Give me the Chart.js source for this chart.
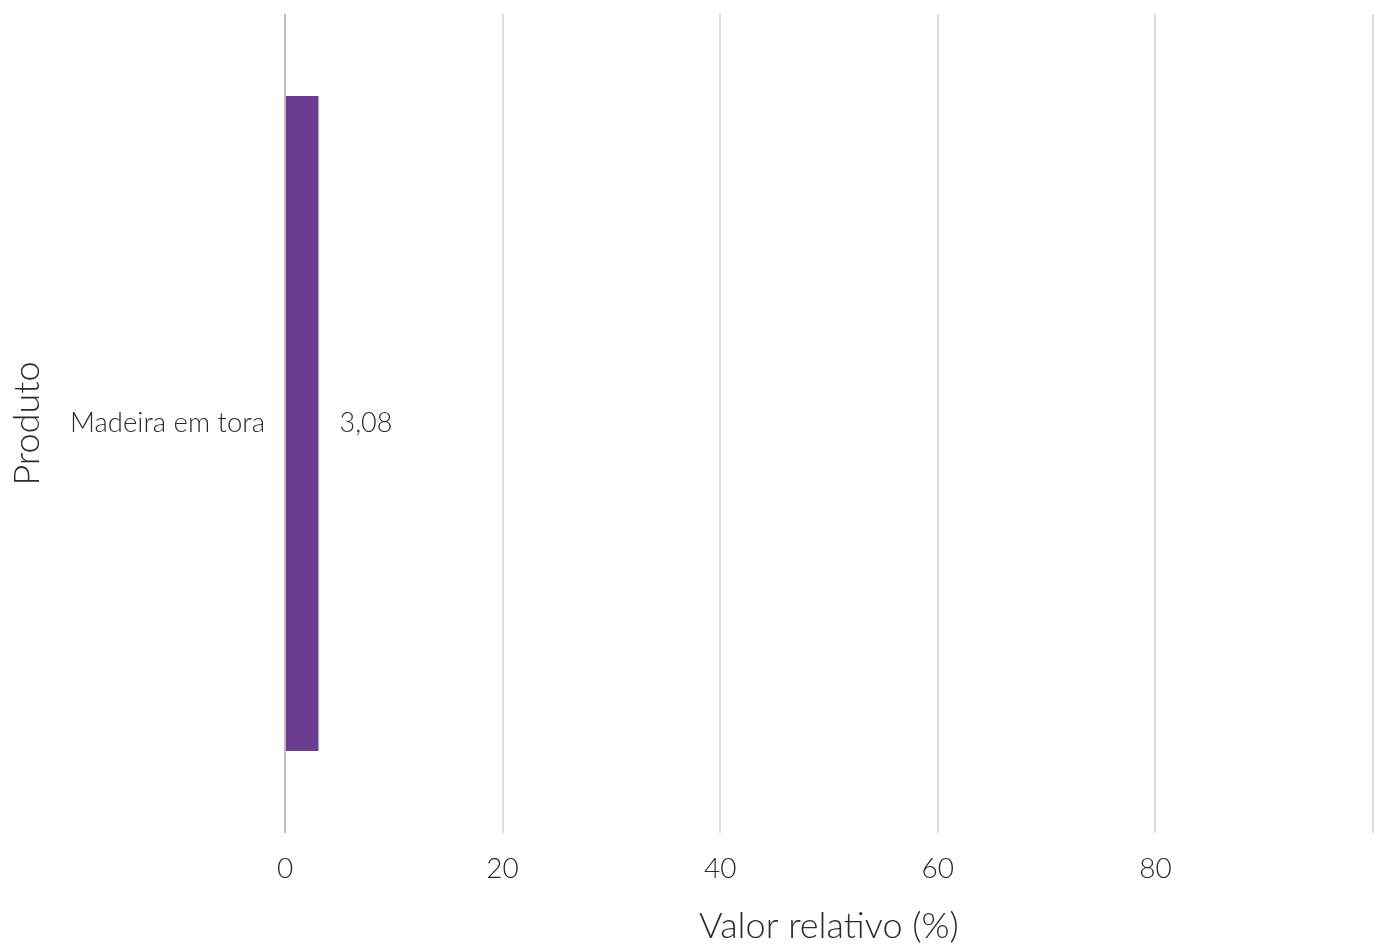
<!DOCTYPE html>
<html>
<head>
<meta charset="utf-8">
<script src="https://cdn.jsdelivr.net/npm/chart.js@4/dist/chart.umd.min.js"></script>
<style>
  body { margin: 0; background: #fff; }
  #wrap { width: 1374px; height: 946px; }
</style>
</head>
<body>
<div id="wrap"><canvas id="myChart"></canvas></div>
<script>
const produtos = ["Madeira em tora"];
const valores = [3.08];
const xTicks = [0, 20, 40, 60, 80, 100];

const fonte = "Lato";

// rotulo do valor ao lado da barra
const rotuloValor = {
  id: "rotuloValor",
  afterDatasetsDraw(chart) {
    const ctx = chart.ctx;
    const meta = chart.getDatasetMeta(0);
    ctx.save();
    ctx.font = `300 27px ${fonte}`;
    ctx.fillStyle = "#2b2b2b";
    ctx.textAlign = "left";
    ctx.textBaseline = "middle";
    meta.data.forEach((bar, i) => {
      const txt = valores[i].toFixed(2).replace(".", ",");
      ctx.fillText(txt, bar.x + 21, bar.y);
    });
    ctx.restore();
  },
};

const config = {
  type: "bar",
  data: {
    labels: produtos,
    datasets: [
      {
        data: valores,
        backgroundColor: "#6b3d8f",
        barPercentage: 0.8,
        categoryPercentage: 1,
      },
    ],
  },
  options: {
    indexAxis: "y",
    responsive: true,
    maintainAspectRatio: false,
    animation: false,
    layout: { padding: { top: 14, right: 1, left: 0, bottom: 0 } },
    plugins: { legend: { display: false }, tooltip: { enabled: false } },
    scales: {
      x: {
        min: 0,
        max: 100,
        afterBuildTicks: (scale) => {
          scale.ticks = xTicks.map((v) => ({ value: v }));
        },
        afterFit: (scale) => {
          scale.height = 113;
          scale.paddingLeft = 0;
          scale.paddingRight = 0;
        },
        border: { display: false },
        grid: {
          drawTicks: false,
          lineWidth: 2,
          color: (c) => (c.tick && c.tick.value === 0 ? "#bdbdbd" : "#dddddd"),
        },
        ticks: {
          padding: 19,
          color: "#2b2b2b",
          font: { family: fonte, size: 28, weight: "300" },
          callback: (v) => (v === 100 ? "" : v),
        },
        title: {
          display: true,
          text: "Valor relativo (%)",
          color: "#2b2b2b",
          font: { family: fonte, size: 36, weight: "300" },
          padding: { top: 0, bottom: -2 },
        },
      },
      y: {
        afterFit: (scale) => {
          scale.width = 285;
          scale.paddingTop = 0;
          scale.paddingBottom = 0;
        },
        border: { display: false },
        grid: { display: false },
        ticks: {
          padding: 12,
          color: "#2b2b2b",
          font: { family: fonte, size: 27.5, weight: "300" },
        },
        title: {
          display: true,
          text: "Produto",
          color: "#2b2b2b",
          font: { family: fonte, size: 36, weight: "300" },
          padding: { top: 6, bottom: 0 },
        },
      },
    },
  },
  plugins: [rotuloValor],
};

const myChart = new Chart(document.getElementById("myChart"), config);
</script>
</body>
</html>
